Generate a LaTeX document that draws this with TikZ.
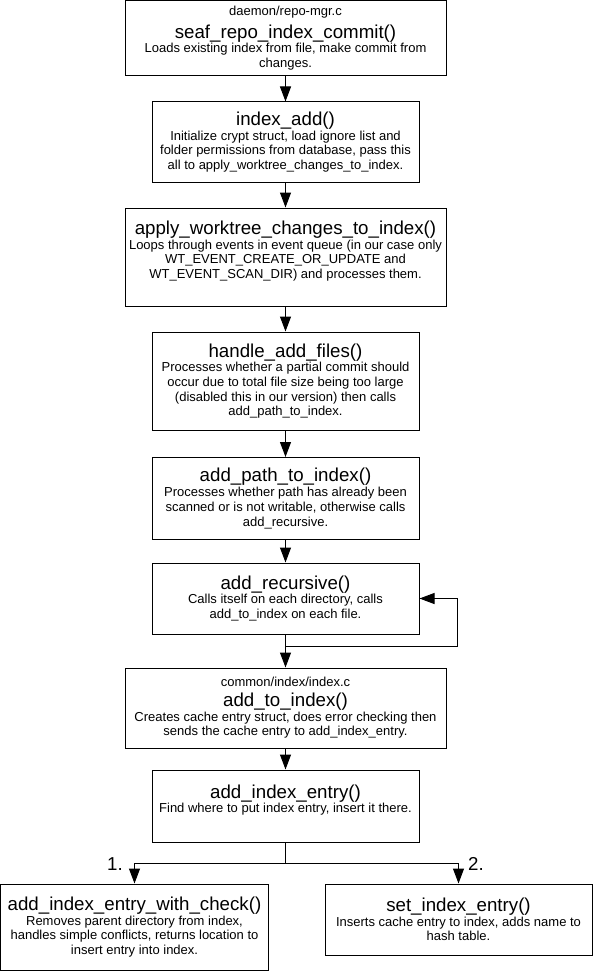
\documentclass[tikz,border=0pt]{standalone}
\usepackage{fontspec}
\setmainfont{Liberation Sans}
\usetikzlibrary{arrows.meta}
\newcommand{\ttl}[1]{{\fontsize{18.7}{18.7}\selectfont #1}}
\begin{document}
\begin{tikzpicture}[x=1pt,y=-1pt,
  box/.style={draw, line width=1pt, align=center, font=\fontsize{13}{14.7}\selectfont, inner sep=0pt},
  arr/.style={line width=1pt, -{Triangle[length=15pt,width=11pt]}},
  num/.style={font=\fontsize{18.7}{18.7}\selectfont, inner sep=0pt}]
\useasboundingbox (0,0) rectangle (593,971);
\node[box, minimum width=321pt, minimum height=75.5pt] (b1) at (285.5,38.25)
  {daemon/repo-mgr.c\\[5pt]\ttl{seaf\_repo\_index\_commit()}\\Loads existing index from file, make commit from\\changes.};
\node[box, minimum width=267pt, minimum height=80pt] (b2) at (285.5,142)
  {\ttl{index\_add()}\\Initialize crypt struct, load ignore list and\\folder permissions from database, pass this\\all to apply\_worktree\_changes\_to\_index.};
\node[box, minimum width=321pt, minimum height=98pt] (b3) at (285.5,257)
  {\ttl{apply\_worktree\_changes\_to\_index()}\\Loops through events in event queue (in our case only\\WT\_EVENT\_CREATE\_OR\_UPDATE and\\WT\_EVENT\_SCAN\_DIR) and processes them.\\\mbox{}};
\node[box, minimum width=267pt, minimum height=98pt] (b4) at (285.5,381)
  {\ttl{handle\_add\_files()}\\Processes whether a partial commit should\\occur due to total file size being too large\\(disabled this in our version) then calls\\add\_path\_to\_index.};
\node[box, minimum width=267pt, minimum height=82pt] (b5) at (285.5,498.5)
  {\ttl{add\_path\_to\_index()}\\Processes whether path has already been\\scanned or is not writable, otherwise calls\\add\_recursive.};
\node[box, minimum width=267pt, minimum height=71pt] (b6) at (285.5,598.5)
  {\ttl{add\_recursive()}\\Calls itself on each directory, calls\\add\_to\_index on each file.};
\node[box, minimum width=321pt, minimum height=80pt] (b7) at (285.5,708)
  {common/index/index.c\\[5pt]\ttl{add\_to\_index()}\\Creates cache entry struct, does error checking then\\sends the cache entry to add\_index\_entry.};
\node[box, minimum width=267pt, minimum height=72pt] (b8) at (285.5,806)
  {\ttl{add\_index\_entry()}\\Find where to put index entry, insert it there.\\\mbox{}};
\node[box, minimum width=268pt, minimum height=86pt] (b9) at (134.5,927)
  {\ttl{add\_index\_entry\_with\_check()}\\Removes parent directory from index,\\handles simple conflicts, returns location to\\insert entry into index.};
\node[box, minimum width=267pt, minimum height=71pt] (b10) at (458.5,919.5)
  {\ttl{set\_index\_entry()}\\Inserts cache entry to index, adds name to\\hash table.};
\coordinate (loopj) at (285.5,646);
\coordinate (loopc) at (457,646);
\coordinate (split) at (285.5,863);
\draw[arr] (b1.south) -- (b2.north);
\draw[arr] (b2.south) -- (b3.north);
\draw[arr] (b3.south) -- (b4.north);
\draw[arr] (b4.south) -- (b5.north);
\draw[arr] (b5.south) -- (b6.north);
\draw[arr] (b6.south) -- (b7.north);
\draw[arr] (loopj) -- (loopc) |- (b6.east);
\draw[arr] (b7.south) -- (b8.north);
\draw[line width=1pt] (b8.south) -- (split);
\draw[arr] (split) -| (b9.north);
\draw[arr] (split) -| (b10.north);
\node[num] (n1) at (115,864) {1.};
\node[num] (n2) at (476,864) {2.};
\end{tikzpicture}
\end{document}
